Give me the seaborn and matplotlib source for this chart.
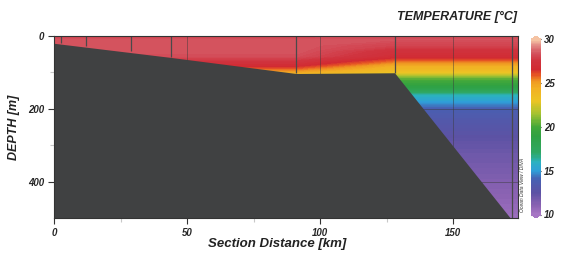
import numpy as np
import matplotlib
matplotlib.use("Agg")
from matplotlib import pyplot as plt
from matplotlib.colors import LinearSegmentedColormap
import seaborn as sns

# temperature profiles (deg C)
depth_m = [0, 10, 25, 40, 55, 70, 80, 90, 100, 115, 130, 145, 160, 180, 200, 250, 300, 400, 500]
temp_shelf = [28.0, 28.4, 28.5, 28.5, 28.3, 27.4, 26.8, 25.8, 24.6, 22.0, 19.5, 18.0, 16.0, 14.5, 13.6, 12.8, 12.2, 11.3, 10.5]
temp_slope = [28.2, 28.4, 28.0, 27.3, 26.9, 25.6, 24.6, 23.9, 23.0, 20.5, 19.4, 18.3, 16.2, 15.0, 13.8, 12.9, 12.2, 11.3, 10.4]
profile_km = [0, 91, 128, 174.4]

# bottom topography
bathy_km = [0, 44, 91, 128, 171.5, 174.4]
bathy_depth = [20, 59, 103, 101, 500, 500]

# stations
station_km = [2.5, 12, 29, 44, 91, 128, 172]
station_depth = [20, 28, 40, 58, 103, 101, 500]

# ODV-like palette
odv_stops = [(10, "#a676c4"), (11, "#8a62b2"), (12.5, "#5c52a4"), (14, "#4760b2"),
             (15, "#2f9fd8"), (16, "#2bb2c0"), (17, "#2fa866"), (19, "#2fa142"),
             (20, "#43a83a"), (21.5, "#a2c232"), (23, "#ecc424"), (24.5, "#f2b024"),
             (25.3, "#ef9522"), (26, "#e65424"), (26.6, "#d12a32"), (27.6, "#d0343f"),
             (28.5, "#d4525e"), (29.4, "#e38c86"), (30, "#f5c3a3")]
cmap = LinearSegmentedColormap.from_list(
    "odv", [((v - 10) / 20, c) for v, c in odv_stops])

sns.set_theme(style="white")
plt.rcParams["font.family"] = ["Liberation Sans", "DejaVu Sans"]

fig = plt.figure(figsize=(5.63, 2.64), dpi=100)
ax = fig.add_axes([54 / 563, 46 / 264, 464 / 563, 182 / 264])

X, Z = np.meshgrid(profile_km, depth_m)
T = np.column_stack([temp_shelf, temp_shelf, temp_slope, temp_slope])
cf = ax.contourf(X, Z, T, levels=np.linspace(10, 30, 161), cmap=cmap, vmin=10, vmax=30, extend="both")

ax.fill_between(bathy_km, bathy_depth, 500, color="#404142", lw=0, zorder=3)
ax.vlines(station_km, 0, station_depth, color="#4a4a4a", lw=0.9, zorder=4)

ax.set_xlim(0, 174.4)
ax.set_ylim(500, 0)
ax.set_xticks([0, 50, 100, 150])
ax.set_xticks([25, 75, 125], minor=True)
ax.set_yticks([0, 200, 400])
ax.set_yticks([100, 300], minor=True)
ax.grid(True, which="major", color="#3a3a3a", lw=0.6, alpha=0.55, zorder=5)
ax.set_axisbelow(False)
ax.tick_params(which="major", direction="out", length=4, width=0.8, color="#333333",
               bottom=True, left=True, labelsize=7, pad=3)
ax.tick_params(which="minor", direction="out", length=3, width=0.8, color="#c8c8c8",
               bottom=True, left=True)
for lab in ax.get_xticklabels() + ax.get_yticklabels():
    lab.set_fontweight("bold")
    lab.set_fontstyle("italic")
for s in ax.spines.values():
    s.set_color("#333333")
    s.set_linewidth(0.8)
    s.set_zorder(6)

fig.text(277 / 563, 1 - 244 / 264, "Section Distance [km]", ha="center", va="center",
         fontsize=9.5, fontweight="bold", fontstyle="italic", color="#222222")
fig.text(14 / 563, 1 - 127 / 264, "DEPTH [m]", ha="center", va="center", rotation=90,
         fontsize=9, fontweight="bold", fontstyle="italic", color="#222222")
fig.text(517 / 563, 1 - 17 / 264, "TEMPERATURE [\u00b0C]", ha="right", va="center",
         fontsize=9, fontweight="bold", fontstyle="italic", color="#222222")
fig.text(523 / 563, 1 - 185 / 264, "Ocean Data View / DIVA", ha="center", va="center",
         rotation=90, fontsize=3.6, fontstyle="italic", color="#333333")

cax = fig.add_axes([531 / 563, 46 / 264, 10 / 563, 182 / 264])
cbar = fig.colorbar(cf, cax=cax, ticks=[10, 15, 20, 25, 30], extendfrac=0.02)
cbar.outline.set_visible(False)
cax.tick_params(direction="in", length=2.5, width=0.8, color="#222222", left=True, right=True,
                labelsize=7, pad=2)
for lab in cax.get_yticklabels():
    lab.set_fontweight("bold")
    lab.set_fontstyle("italic")

fig.savefig("out.png", dpi=100)
